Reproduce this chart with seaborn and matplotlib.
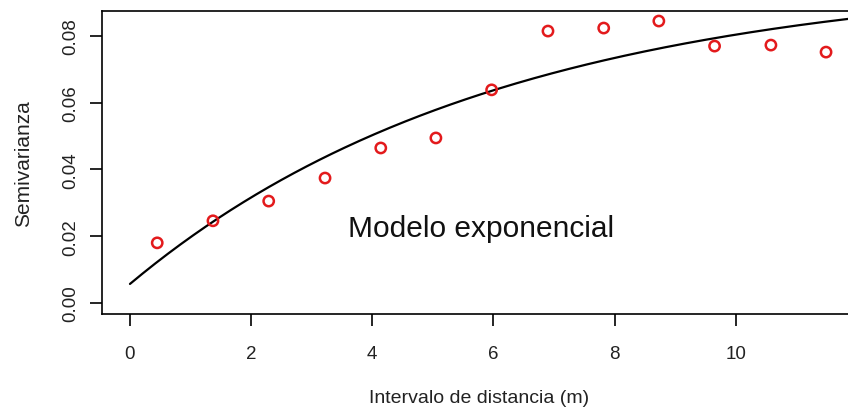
import numpy as np
import pandas as pd
import matplotlib
matplotlib.use("Agg")
import matplotlib.pyplot as plt
import seaborn as sns

# Empirical semivariogram (lag distance in m, semivariance)
lag_m = [0.45, 1.37, 2.29, 3.22, 4.14, 5.05, 5.97, 6.90, 7.82, 8.73, 9.65, 10.58, 11.49]
semivar = [0.0180, 0.0246, 0.0305, 0.0374, 0.0464, 0.0494, 0.0638,
           0.0814, 0.0823, 0.0844, 0.0769, 0.0772, 0.0751]

# Fitted exponential model parameters
nugget = 0.0057
partial_sill = 0.0926
range_par = 6.1

x_ticks = [0, 2, 4, 6, 8, 10]
y_ticks = [0.00, 0.02, 0.04, 0.06, 0.08]
y_tick_labels = ["0.00", "0.02", "0.04", "0.06", "0.08"]

sns.set_theme(style="ticks")
plt.rcParams["font.family"] = ["Liberation Sans", "DejaVu Sans"]

fig = plt.figure(figsize=(8.48, 4.10), dpi=100)
ax = fig.add_axes([0.1204, 0.2317, 0.923, 0.739])

h = np.linspace(0, 12.46, 300)
model = pd.DataFrame({"h": h, "g": nugget + partial_sill * (1 - np.exp(-h / range_par))})
emp = pd.DataFrame({"h": lag_m, "g": semivar})

sns.lineplot(data=model, x="h", y="g", ax=ax, color="black", linewidth=1.6)
sns.scatterplot(data=emp, x="h", y="g", ax=ax, marker="o", s=55,
                facecolor="none", edgecolor="#e31a1c", linewidth=1.8, zorder=3)

ax.set_xlim(-0.46, 12.46)
ax.set_ylim(-0.0033, 0.0874)
ax.set_xticks(x_ticks)
ax.set_xticklabels([str(t) for t in x_ticks])
ax.set_yticks(y_ticks)
ax.set_yticklabels(y_tick_labels, rotation=90, va="center")

for sp in ax.spines.values():
    sp.set_color("black")
    sp.set_linewidth(1.2)

ax.tick_params(axis="both", which="major", direction="out", length=8.5, width=1.2,
               color="black", labelsize=13.5, labelcolor="#222222")
ax.tick_params(axis="x", pad=14)
ax.tick_params(axis="y", pad=8)

ax.set_xlabel("Intervalo de distancia (m)", fontsize=14, color="#222222", labelpad=19)
ax.xaxis.label.set_x(0.4815)
ax.set_ylabel("Semivarianza", fontsize=15, color="#222222", labelpad=21)

ax.text(5.8, 0.0225, "Modelo exponencial", fontsize=21.5, color="#111111",
        ha="center", va="center")

fig.savefig("out.png", dpi=100)
